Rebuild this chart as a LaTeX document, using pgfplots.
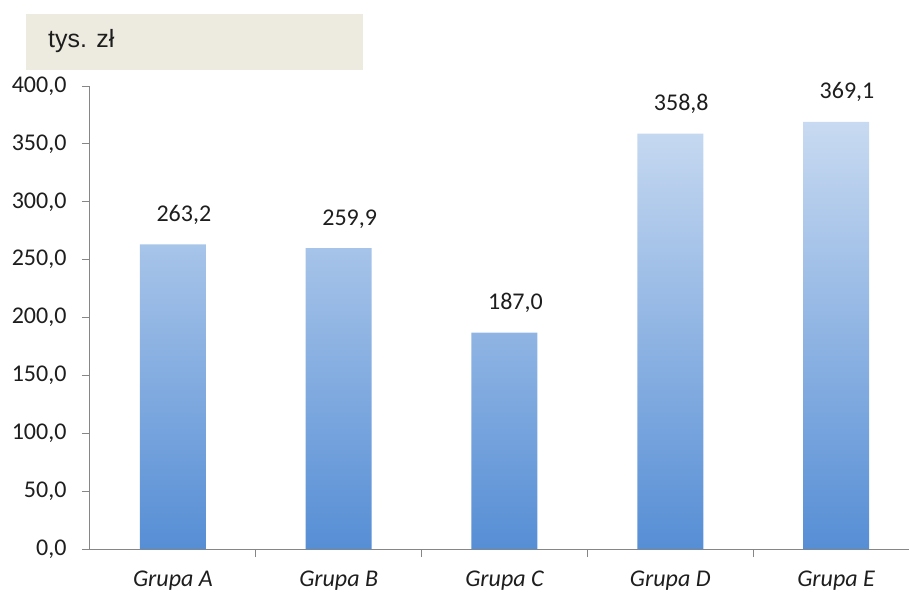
\documentclass[border=0pt]{standalone}
\usepackage{pgfplots}
\pgfplotsset{compat=1.18}
\usepackage{fontspec}
\setmainfont{Carlito}
\newfontfamily\arialf{Liberation Sans}
\definecolor{barTop}{RGB}{200,218,241}
\definecolor{barBot}{RGB}{86,142,213}
\definecolor{axgray}{RGB}{134,134,134}
\definecolor{boxfill}{RGB}{237,234,224}
\definecolor{txt}{RGB}{30,30,30}
\begin{document}
\begin{tikzpicture}
\path[use as bounding box] (-90pt,-43pt) rectangle (819pt,549pt);
\fill[boxfill] (-64pt,479pt) rectangle (273pt,535pt);
\node[anchor=base west, inner sep=0pt, text=txt, font=\arialf\fontsize{25}{29}\selectfont] at (-42pt,501pt) {tys. zł};
\begin{axis}[
  at={(0,0)}, anchor=south west,
  scale only axis, width=819pt, height=463pt,
  xmin=-0.5, xmax=4.44, ymin=0, ymax=400,
  axis x line=bottom, axis y line=left,
  axis line style={axgray, line width=1pt, -},
  xtick={0,1,2,3,4},
  xticklabels={Grupa A,Grupa B,Grupa C,Grupa D,Grupa E},
  minor xtick={0.5,1.5,2.5,3.5},
  major x tick style={draw=none},
  minor x tick style={axgray, line width=1pt},
  ytick={0,50,...,400},
  y tick style={axgray, line width=1pt},
  tick align=outside,
  major tick length=8pt, minor tick length=8pt,
  xticklabel style={font=\fontsize{24}{28}\selectfont\itshape, text=txt, yshift=-10pt},
  yticklabel style={font=\fontsize{24}{28}\selectfont, text=txt, xshift=-12pt},
  /pgf/number format/assume math mode=true,
  yticklabel={\pgfmathprintnumber[fixed, fixed zerofill, precision=1, use comma]{\tick}},
  nodes near coords={\pgfmathprintnumber[fixed, fixed zerofill, precision=1, use comma, assume math mode=true]{\pgfplotspointmeta}},
  nodes near coords style={anchor=base, inner sep=0pt, yshift=23pt, xshift=11pt, font=\fontsize{24}{28}\selectfont, text=txt},
  clip=false,
]
\addplot[ybar, bar width=66pt, draw=none, top color=barTop, bottom color=barBot]
  coordinates {(0,263.2) (1,259.9) (2,187.0) (3,358.8) (4,369.1)};
\end{axis}
\end{tikzpicture}
\end{document}
